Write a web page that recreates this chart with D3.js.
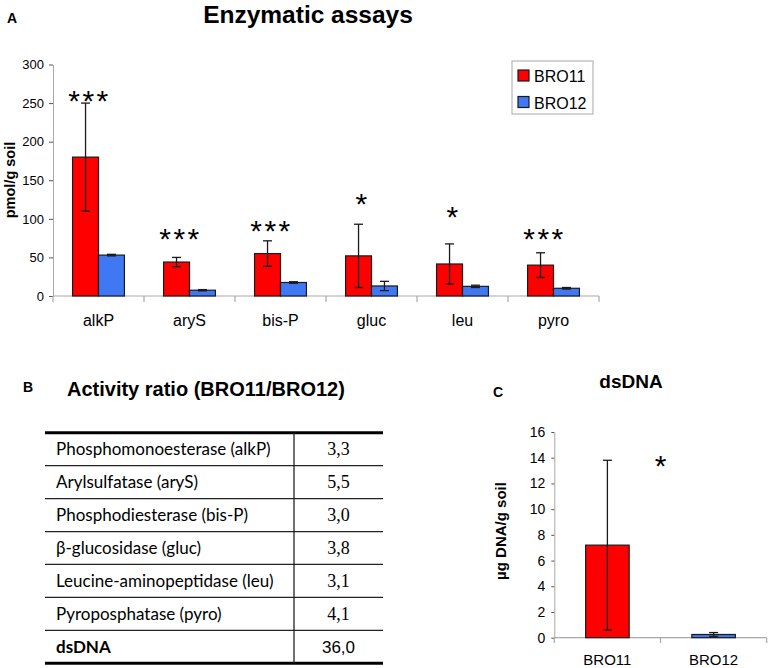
<!DOCTYPE html>
<html>
<head>
<meta charset="utf-8">
<script src="https://cdn.jsdelivr.net/npm/d3@7"></script>
<style>
  body { margin: 0; background: #fff; }
  svg { display: block; }
  text { font-family: "Liberation Sans", Arial, sans-serif; fill: #000; }
</style>
</head>
<body>
<div id="fig"></div>
<script>
// ---- data ----
var categories = ["alkP", "aryS", "bis-P", "gluc", "leu", "pyro"];
var series = ["BRO11", "BRO12"];
var bro11 = [180, 44, 55, 52, 41.5, 40];
var bro11Err = [70, 6, 16.5, 41, 26, 16];
var bro12 = [53, 7.5, 17.5, 13, 12.5, 10];
var bro12Err = [1, 0.8, 1, 6, 1.5, 1];
var sig = ["***", "***", "***", "*", "*", "***"];
var sigLevel = [262, 83, 93, 128, 112, 83];
var yTicks = [0, 50, 100, 150, 200, 250, 300];

var enzymes = ["Phosphomonoesterase (alkP)", "Arylsulfatase (aryS)", "Phosphodiesterase (bis-P)",
  "\u03b2-glucosidase (gluc)", "Leucine-aminopeptidase (leu)", "Pyroposphatase (pyro)", "dsDNA"];
var ratios = ["3,3", "5,5", "3,0", "3,8", "3,1", "4,1", "36,0"];

var dnaGroups = ["BRO11", "BRO12"];
var dnaValues = [7.2, 0.25];
var dnaErr = [6.6, 0.15];
var dnaSig = "*";
var dnaSigLevel = 13.9;
var dnaTicks = [0, 2, 4, 6, 8, 10, 12, 14, 16];

var colors = { BRO11: "#ff0000", BRO12: "#3f78f2" };
var axisGrey = "#a8a8a8";
var edge = "#1a1a1a";

var svg = d3.select("#fig").append("svg")
  .attr("width", 768)
  .attr("height", 668);

// ================= Panel A =================
var gA = svg.append("g");

gA.append("text").attr("x", 7).attr("y", 23)
  .style("font-weight", "bold").style("font-size", "14px").text("A");
gA.append("text").attr("x", 308).attr("y", 23).attr("text-anchor", "middle")
  .style("font-weight", "bold").style("font-size", "24.5px").text("Enzymatic assays");

var x0 = d3.scaleBand().domain(categories).range([53, 599])
  .paddingInner(0.43).paddingOuter(0.215);
var x1 = d3.scaleBand().domain(series).range([0, x0.bandwidth()]);
var y = d3.scaleLinear().domain([0, 300]).range([296, 64.5]);

var tableA = categories.map(function (c, i) {
  return {
    cat: c,
    vals: [
      { s: "BRO11", v: bro11[i], e: bro11Err[i] },
      { s: "BRO12", v: bro12[i], e: bro12Err[i] }
    ]
  };
});

// y axis
var yAxis = d3.axisLeft(y).tickValues(yTicks).tickSize(4).tickSizeOuter(0).tickPadding(5);
var gy = gA.append("g").attr("transform", "translate(53,0)").call(yAxis);
gy.select(".domain").attr("stroke", axisGrey);
gy.selectAll(".tick line").attr("stroke", "#555");
gy.selectAll("text").style("font-size", "13px")
  .style("font-family", "'Liberation Sans', Arial, sans-serif");

gA.append("text")
  .attr("transform", "translate(15,180) rotate(-90)")
  .attr("text-anchor", "middle")
  .style("font-weight", "bold").style("font-size", "14.5px")
  .text("pmol/g soil");

// x axis (labels) + boundary ticks
var xAxis = d3.axisBottom(x0).tickSize(0).tickPadding(19);
var gx = gA.append("g").attr("transform", "translate(0,296)").call(xAxis);
gx.select(".domain").remove();
gx.selectAll("text").style("font-size", "16px")
  .style("font-family", "'Liberation Sans', Arial, sans-serif");

var bounds = categories.map(function (c) { return x0(c) - x0.step() * x0.paddingOuter(); });
bounds.push(x0.range()[1]);
gA.append("line").attr("x1", 53).attr("x2", 599).attr("y1", 296).attr("y2", 296)
  .attr("stroke", axisGrey).attr("stroke-width", 1.2);
gA.selectAll(".bnd").data(bounds).enter().append("line")
  .attr("x1", function (d) { return d; }).attr("x2", function (d) { return d; })
  .attr("y1", 296).attr("y2", 302)
  .attr("stroke", axisGrey).attr("stroke-width", 1.2);

// bars
var groups = gA.selectAll(".grp").data(tableA).enter().append("g")
  .attr("transform", function (d) { return "translate(" + x0(d.cat) + ",0)"; });

groups.selectAll("rect").data(function (d) { return d.vals; }).enter().append("rect")
  .attr("x", function (d) { return x1(d.s); })
  .attr("y", function (d) { return y(d.v); })
  .attr("width", x1.bandwidth())
  .attr("height", function (d) { return y(0) - y(d.v); })
  .attr("fill", function (d) { return colors[d.s]; })
  .attr("stroke", edge).attr("stroke-width", 1.2);

// error bars
var eb = groups.selectAll(".err").data(function (d) { return d.vals; }).enter().append("g")
  .attr("transform", function (d) { return "translate(" + (x1(d.s) + x1.bandwidth() / 2) + ",0)"; });
eb.append("line")
  .attr("y1", function (d) { return y(d.v - d.e); })
  .attr("y2", function (d) { return y(d.v + d.e); })
  .attr("stroke", edge).attr("stroke-width", 1.3);
eb.selectAll(".cap").data(function (d) { return [d.v - d.e, d.v + d.e]; }).enter().append("line")
  .attr("x1", -4.5).attr("x2", 4.5)
  .attr("y1", function (d) { return y(d); }).attr("y2", function (d) { return y(d); })
  .attr("stroke", edge).attr("stroke-width", 1.3);

// significance stars
gA.selectAll(".sig").data(categories).enter().append("text")
  .attr("x", function (c) { return x0(c) + x1("BRO11") + x1.bandwidth() / 2 + 4; })
  .attr("y", function (c, i) { return y(sigLevel[i]) + 17; })
  .attr("text-anchor", "middle")
  .style("font-size", "30px").style("letter-spacing", "2.5px")
  .text(function (c, i) { return sig[i]; });

// legend
var lg = gA.append("g").attr("transform", "translate(512,61)");
lg.append("rect").attr("width", 81).attr("height", 53)
  .attr("fill", "#fff").attr("stroke", axisGrey).attr("stroke-width", 1);
var li = lg.selectAll(".li").data(series).enter().append("g")
  .attr("transform", function (d, i) { return "translate(6," + (9 + i * 26.5) + ")"; });
li.append("rect").attr("width", 11).attr("height", 11)
  .attr("fill", function (d) { return colors[d]; })
  .attr("stroke", edge).attr("stroke-width", 1.2);
li.append("text").attr("x", 16).attr("y", 12)
  .style("font-size", "16px").text(function (d) { return d; });

// ================= Panel B =================
var gB = svg.append("g");
gB.append("text").attr("x", 23).attr("y", 392)
  .style("font-weight", "bold").style("font-size", "14px").text("B");
gB.append("text").attr("x", 67).attr("y", 396)
  .style("font-weight", "bold").style("font-size", "20px").text("Activity ratio (BRO11/BRO12)");

var rowY = d3.scaleBand().domain(enzymes).range([432.7, 663.3]);
var tLeft = 45, tRight = 383, tDiv = 294;

var rows = gB.selectAll(".row").data(enzymes).enter().append("g")
  .attr("transform", function (d) { return "translate(0," + rowY(d) + ")"; });
rows.append("text").attr("x", 56).attr("y", rowY.bandwidth() / 2 + 6)
  .style("font-family", "Lato, 'Open Sans', sans-serif")
  .style("font-size", "17px")
  .style("font-weight", function (d, i) { return i === enzymes.length - 1 ? "bold" : "normal"; })
  .text(function (d) { return d; });
rows.append("text").attr("x", (tDiv + tRight) / 2).attr("y", rowY.bandwidth() / 2 + 6)
  .attr("text-anchor", "middle")
  .style("font-family", function (d, i) {
    return i === enzymes.length - 1 ? "'Liberation Sans', Arial, sans-serif" : "'Liberation Serif', 'Times New Roman', serif";
  })
  .style("font-size", function (d, i) { return i === enzymes.length - 1 ? "17px" : "18px"; })
  .text(function (d, i) { return ratios[i]; });

// row rules
gB.selectAll(".rule").data(enzymes.slice(1)).enter().append("line")
  .attr("x1", tLeft).attr("x2", tRight)
  .attr("y1", function (d) { return rowY(d); }).attr("y2", function (d) { return rowY(d); })
  .attr("stroke", "#222").attr("stroke-width", 1.2);
gB.append("line").attr("x1", tLeft).attr("x2", tRight)
  .attr("y1", rowY.range()[0]).attr("y2", rowY.range()[0])
  .attr("stroke", "#000").attr("stroke-width", 3);
gB.append("line").attr("x1", tLeft).attr("x2", tRight)
  .attr("y1", rowY.range()[1]).attr("y2", rowY.range()[1])
  .attr("stroke", "#000").attr("stroke-width", 3);
gB.append("line").attr("x1", tDiv).attr("x2", tDiv)
  .attr("y1", rowY.range()[0]).attr("y2", rowY.range()[1])
  .attr("stroke", "#222").attr("stroke-width", 1.3);

// ================= Panel C =================
var gC = svg.append("g");
gC.append("text").attr("x", 493).attr("y", 397)
  .style("font-weight", "bold").style("font-size", "14px").text("C");
gC.append("text").attr("x", 631).attr("y", 388).attr("text-anchor", "middle")
  .style("font-weight", "bold").style("font-size", "19px").text("dsDNA");

var xc = d3.scaleBand().domain(dnaGroups).range([554.3, 766.7])
  .paddingInner(0.59).paddingOuter(0.295);
var yc = d3.scaleLinear().domain([0, 16]).range([637.7, 432]);

var ycAxis = d3.axisLeft(yc).tickValues(dnaTicks).tickSize(3).tickSizeOuter(0).tickPadding(6);
var gyc = gC.append("g").attr("transform", "translate(554.3,0)").call(ycAxis);
gyc.select(".domain").attr("stroke", axisGrey);
gyc.selectAll(".tick line").attr("stroke", "#555");
gyc.selectAll("text").style("font-size", "14px")
  .style("font-family", "'Liberation Sans', Arial, sans-serif");

gC.append("text")
  .attr("transform", "translate(506,531) rotate(-90)")
  .attr("text-anchor", "middle")
  .style("font-weight", "bold").style("font-size", "15px")
  .text("\u00b5g DNA/g soil");

var xcAxis = d3.axisBottom(xc).tickSize(0).tickPadding(17);
var gxc = gC.append("g").attr("transform", "translate(0,637.7)").call(xcAxis);
gxc.select(".domain").remove();
gxc.selectAll("text").style("font-size", "15px")
  .style("font-family", "'Liberation Sans', Arial, sans-serif");

var cBounds = dnaGroups.map(function (g) { return xc(g) - xc.step() * xc.paddingOuter(); });
cBounds.push(xc.range()[1]);
gC.append("line").attr("x1", 554.3).attr("x2", 766.7).attr("y1", 637.7).attr("y2", 637.7)
  .attr("stroke", axisGrey).attr("stroke-width", 1.2);
gC.selectAll(".bnd").data(cBounds).enter().append("line")
  .attr("x1", function (d) { return d; }).attr("x2", function (d) { return d; })
  .attr("y1", 637.7).attr("y2", 643)
  .attr("stroke", axisGrey).attr("stroke-width", 1.2);

var dna = dnaGroups.map(function (g, i) { return { g: g, v: dnaValues[i], e: dnaErr[i] }; });
gC.selectAll(".bar").data(dna).enter().append("rect")
  .attr("x", function (d) { return xc(d.g); })
  .attr("y", function (d) { return yc(d.v); })
  .attr("width", xc.bandwidth())
  .attr("height", function (d) { return yc(0) - yc(d.v); })
  .attr("fill", function (d) { return colors[d.g]; })
  .attr("stroke", edge).attr("stroke-width", 1.2);

var ebc = gC.selectAll(".err").data(dna).enter().append("g")
  .attr("transform", function (d) { return "translate(" + (xc(d.g) + xc.bandwidth() / 2) + ",0)"; });
ebc.append("line")
  .attr("y1", function (d) { return yc(d.v - d.e); })
  .attr("y2", function (d) { return yc(d.v + d.e); })
  .attr("stroke", edge).attr("stroke-width", 1.3);
ebc.selectAll(".cap").data(function (d) { return [d.v - d.e, d.v + d.e]; }).enter().append("line")
  .attr("x1", -4.5).attr("x2", 4.5)
  .attr("y1", function (d) { return yc(d); }).attr("y2", function (d) { return yc(d); })
  .attr("stroke", edge).attr("stroke-width", 1.3);

gC.append("text")
  .attr("x", cBounds[1]).attr("y", yc(dnaSigLevel) + 17)
  .attr("text-anchor", "middle")
  .style("font-size", "30px")
  .text(dnaSig);
</script>
</body>
</html>
